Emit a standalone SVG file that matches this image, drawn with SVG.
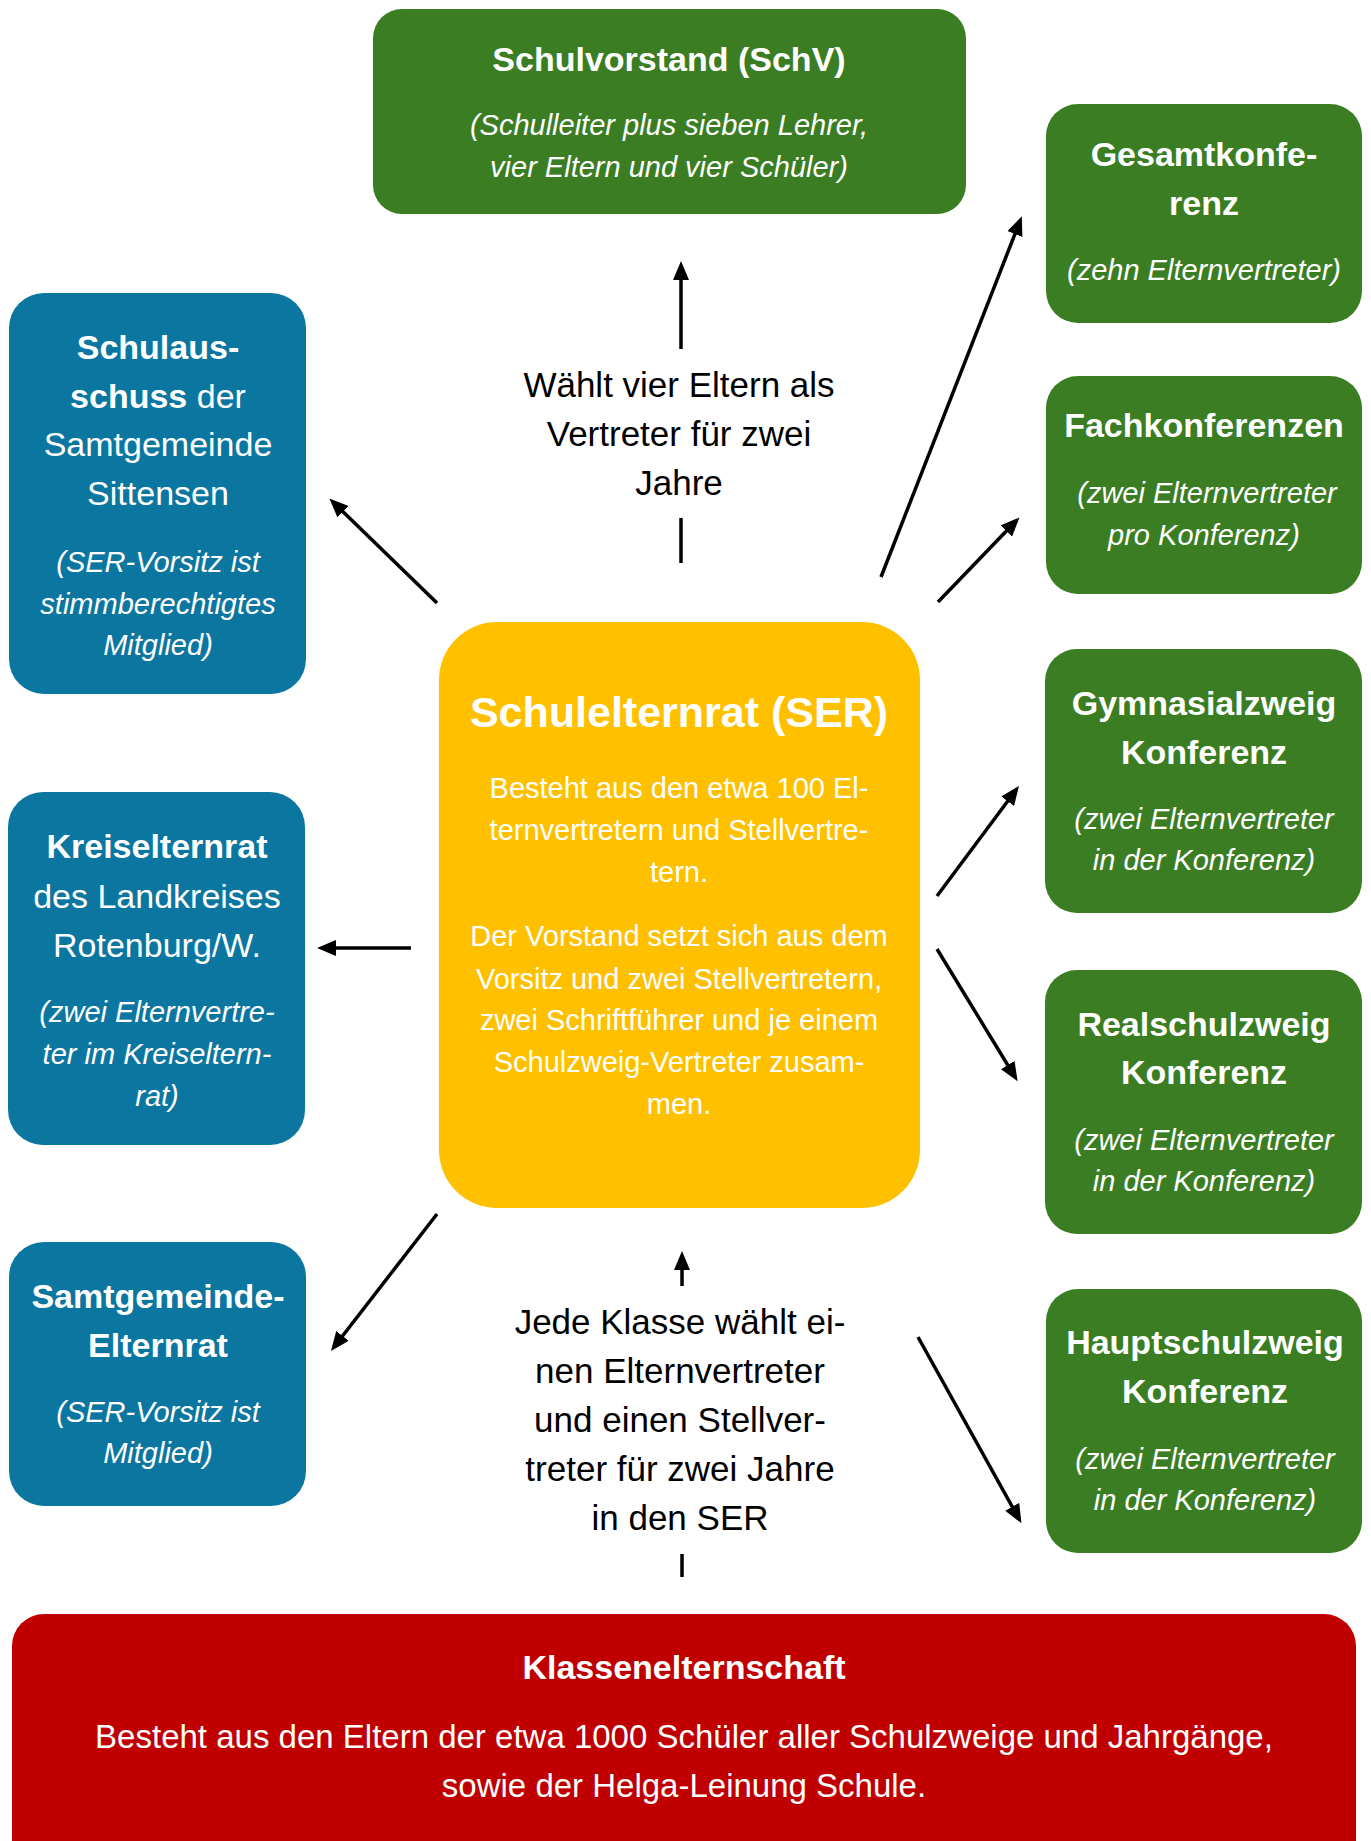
<svg xmlns="http://www.w3.org/2000/svg" width="1371" height="1841" viewBox="0 0 1371 1841">
<defs>
<style>
text{font-family:"Liberation Sans",Arial,sans-serif;text-anchor:middle}
.w{fill:#ffffff}
.k{fill:#000000}
.t{font-size:34px;font-weight:bold}
.r{font-size:34px}
.i{font-size:29px;font-style:italic}
.y{font-size:29px}
.lbl{font-size:35px}
.green{fill:#3A7D22}
.blue{fill:#0B769F}
.yellow{fill:#FFC000}
.red{fill:#C00000}
.conn{stroke:#000;stroke-width:3.5;fill:none;marker-end:url(#ah)}
.seg{stroke:#000;stroke-width:3.5;fill:none}
</style>
<marker id="ah" markerUnits="userSpaceOnUse" markerWidth="20" markerHeight="16" viewBox="0 0 20 16" refX="14" refY="8" orient="auto">
<path d="M0,0 L19,8 L0,16 z" fill="#000"/>
</marker>
</defs>
<rect width="1371" height="1841" fill="#ffffff"/>

<g id="schulvorstand">
<rect class="green" x="373" y="9" width="593" height="205" rx="29"/>
<text class="w t" x="669" y="71">Schulvorstand (SchV)</text>
<text class="w i" x="669" y="135">(Schulleiter plus sieben Lehrer,</text>
<text class="w i" x="669" y="177">vier Eltern und vier Schüler)</text>
</g>

<g id="gesamtkonferenz">
<rect class="green" x="1046" y="104" width="316" height="219" rx="32"/>
<text class="w t" x="1204" y="166">Gesamtkonfe-</text>
<text class="w t" x="1204" y="215">renz</text>
<text class="w i" x="1204" y="280">(zehn Elternvertreter)</text>
</g>

<g id="fachkonferenzen">
<rect class="green" x="1046" y="376" width="316" height="218" rx="32"/>
<text class="w t" x="1204" y="437">Fachkonferenzen</text>
<text class="w i" x="1207" y="503">(zwei Elternvertreter</text>
<text class="w i" x="1204" y="545">pro Konferenz)</text>
</g>

<g id="gymnasialzweig">
<rect class="green" x="1045" y="649" width="317" height="264" rx="32"/>
<text class="w t" x="1204" y="715">Gymnasialzweig</text>
<text class="w t" x="1204" y="764">Konferenz</text>
<text class="w i" x="1204" y="829">(zwei Elternvertreter</text>
<text class="w i" x="1204" y="870">in der Konferenz)</text>
</g>

<g id="realschulzweig">
<rect class="green" x="1045" y="970" width="317" height="264" rx="32"/>
<text class="w t" x="1204" y="1036">Realschulzweig</text>
<text class="w t" x="1204" y="1084">Konferenz</text>
<text class="w i" x="1204" y="1150">(zwei Elternvertreter</text>
<text class="w i" x="1204" y="1191">in der Konferenz)</text>
</g>

<g id="hauptschulzweig">
<rect class="green" x="1046" y="1289" width="316" height="264" rx="32"/>
<text class="w t" x="1205" y="1354">Hauptschulzweig</text>
<text class="w t" x="1205" y="1403">Konferenz</text>
<text class="w i" x="1205" y="1469">(zwei Elternvertreter</text>
<text class="w i" x="1205" y="1510">in der Konferenz)</text>
</g>

<g id="schulausschuss">
<rect class="blue" x="9" y="293" width="297" height="401" rx="35"/>
<text class="w t" x="158" y="359">Schulaus-</text>
<text class="w r" x="158" y="408"><tspan font-weight="bold">schuss</tspan> der</text>
<text class="w r" x="158" y="456">Samtgemeinde</text>
<text class="w r" x="158" y="505">Sittensen</text>
<text class="w i" x="158" y="572">(SER-Vorsitz ist</text>
<text class="w i" x="158" y="614">stimmberechtigtes</text>
<text class="w i" x="158" y="655">Mitglied)</text>
</g>

<g id="kreiselternrat">
<rect class="blue" x="8" y="792" width="297" height="353" rx="35"/>
<text class="w t" x="157" y="858">Kreiselternrat</text>
<text class="w r" x="157" y="908">des Landkreises</text>
<text class="w r" x="157" y="957">Rotenburg/W.</text>
<text class="w i" x="157" y="1022">(zwei Elternvertre-</text>
<text class="w i" x="157" y="1064">ter im Kreiseltern-</text>
<text class="w i" x="157" y="1106">rat)</text>
</g>

<g id="samtgemeinde-elternrat">
<rect class="blue" x="9" y="1242" width="297" height="264" rx="35"/>
<text class="w t" x="158" y="1308">Samtgemeinde-</text>
<text class="w t" x="158" y="1357">Elternrat</text>
<text class="w i" x="158" y="1422">(SER-Vorsitz ist</text>
<text class="w i" x="158" y="1463">Mitglied)</text>
</g>

<g id="schulelternrat">
<rect class="yellow" x="439" y="622" width="481" height="586" rx="58"/>
<text class="w" x="679" y="727" font-size="43" font-weight="bold">Schulelternrat (SER)</text>
<text class="w y" x="679" y="798">Besteht aus den etwa 100 El-</text>
<text class="w y" x="679" y="840">ternvertretern und Stellvertre-</text>
<text class="w y" x="679" y="882">tern.</text>
<text class="w y" x="679" y="946">Der Vorstand setzt sich aus dem</text>
<text class="w y" x="679" y="989">Vorsitz und zwei Stellvertretern,</text>
<text class="w y" x="679" y="1030">zwei Schriftführer und je einem</text>
<text class="w y" x="679" y="1072">Schulzweig-Vertreter zusam-</text>
<text class="w y" x="679" y="1114">men.</text>
</g>

<g id="klassenelternschaft">
<rect class="red" x="12" y="1614" width="1344" height="270" rx="32"/>
<text class="w t" x="684" y="1679">Klassenelternschaft</text>
<text class="w" x="684" y="1748" font-size="33">Besteht aus den Eltern der etwa 1000 Schüler aller Schulzweige und Jahrgänge,</text>
<text class="w" x="684" y="1797" font-size="33">sowie der Helga-Leinung Schule.</text>
</g>

<g id="label-schv">
<text class="k lbl" x="679" y="397">Wählt vier Eltern als</text>
<text class="k lbl" x="679" y="446">Vertreter für zwei</text>
<text class="k lbl" x="679" y="495">Jahre</text>
</g>

<g id="label-klasse">
<text class="k lbl" x="680" y="1334">Jede Klasse wählt ei-</text>
<text class="k lbl" x="680" y="1383">nen Elternvertreter</text>
<text class="k lbl" x="680" y="1432">und einen Stellver-</text>
<text class="k lbl" x="680" y="1481">treter für zwei Jahre</text>
<text class="k lbl" x="680" y="1530">in den SER</text>
</g>

<g id="connectors">
<path class="seg" d="M681 563 L681 518"/>
<path class="conn" d="M681 349 L681 266"/>
<path class="conn" d="M881 577 L1020 221"/>
<path class="conn" d="M938 602 L1016 521"/>
<path class="conn" d="M437 603 L333 502"/>
<path class="conn" d="M411 948 L322 948"/>
<path class="conn" d="M937 896 L1016 790"/>
<path class="conn" d="M937 949 L1015 1077"/>
<path class="conn" d="M437 1214 L334 1347"/>
<path class="seg" d="M682 1577 L682 1554"/>
<path class="conn" d="M682 1286 L682 1256"/>
<path class="conn" d="M918 1337 L1019 1519"/>
</g>
</svg>
